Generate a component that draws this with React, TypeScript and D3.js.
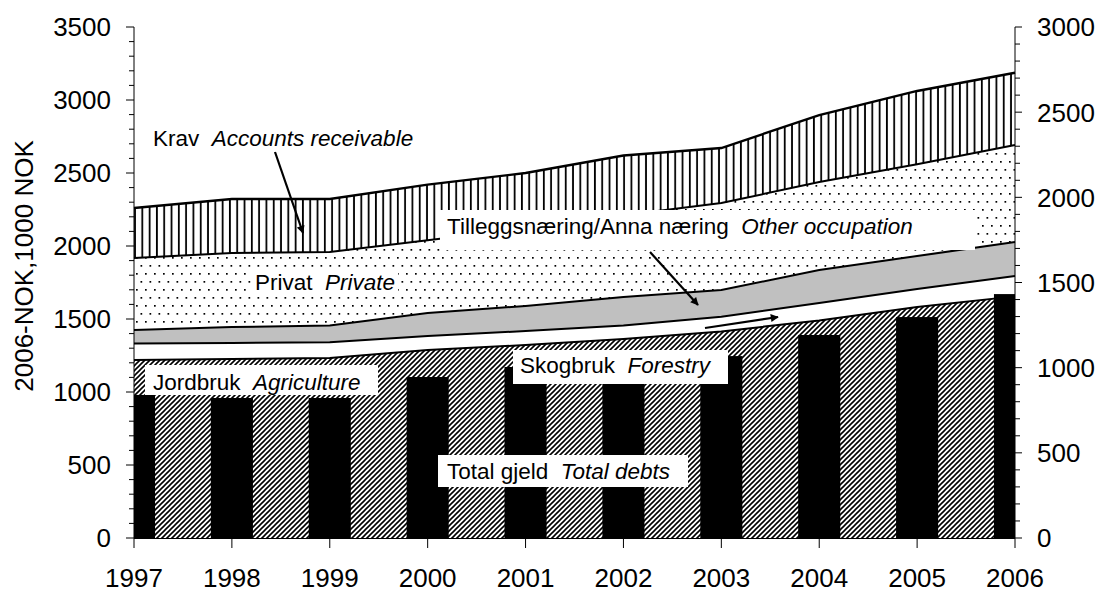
import React from "react";
import * as d3 from "d3";

const years = [1997, 1998, 1999, 2000, 2001, 2002, 2003, 2004, 2005, 2006];
// Stacked layers (left axis, 1000 NOK)
const jordbruk = [1219, 1226, 1233, 1288, 1322, 1363, 1415, 1490, 1582, 1655];
const skogbruk = [114, 110, 107, 95, 96, 92, 100, 120, 123, 139];
const tillegg = [92, 109, 115, 158, 171, 196, 184, 225, 226, 233];
const privat = [493, 507, 504, 499, 531, 559, 595, 603, 629, 665];
const krav = [342, 370, 363, 380, 380, 410, 377, 459, 502, 495];
// Bars (right axis)
const totalDebts = [840, 822, 822, 945, 1004, 1000, 1068, 1192, 1297, 1432];

const leftTicks = [0, 500, 1000, 1500, 2000, 2500, 3000, 3500];
const rightTicks = [0, 500, 1000, 1500, 2000, 2500, 3000];

const FONT = "'Liberation Sans', Arial, sans-serif";

export default function App() {
  const x = d3.scaleLinear().domain([1997, 2006]).range([134, 1015]);
  const yL = d3.scaleLinear().domain([0, 3500]).range([538, 27]);
  const yR = d3.scaleLinear().domain([0, 3000]).range([538, 27]);

  const keys = ["jordbruk", "skogbruk", "tillegg", "privat", "krav"];
  const table = years.map((year, i) => ({
    year,
    jordbruk: jordbruk[i],
    skogbruk: skogbruk[i],
    tillegg: tillegg[i],
    privat: privat[i],
    krav: krav[i],
  }));
  const series = d3.stack<any>().keys(keys)(table);
  const fills: Record<string, string> = {
    jordbruk: "url(#hatch)",
    skogbruk: "#ffffff",
    tillegg: "#c0c0c0",
    privat: "url(#dots)",
    krav: "url(#vlines)",
  };
  const area = d3
    .area<any>()
    .x((d) => x(d.data.year))
    .y0((d) => yL(d[0]))
    .y1((d) => yL(d[1]));
  const topLine = d3
    .line<any>()
    .x((d) => x(d.data.year))
    .y((d) => yL(d[1]));

  const step = x(1998) - x(1997);
  const barW = step * 0.43;

  const leftMinor = d3.range(0, 3501, 100);
  const rightMinor = d3.range(0, 3001, 100);

  return (
    <svg
      width={1099}
      height={593}
      style={{ position: "absolute", left: 0, top: 0, background: "#fff" }}
      fontFamily={FONT}
    >
      <defs>
        <pattern id="hatch" patternUnits="userSpaceOnUse" width={5} height={5}>
          <rect width={5} height={5} fill="#fff" />
          <path d="M-1,1 L1,-1 M0,5 L5,0 M4,6 L6,4" stroke="#000" strokeWidth={1.6} />
        </pattern>
        <pattern id="dots" patternUnits="userSpaceOnUse" width={9} height={16}>
          <rect width={9} height={16} fill="#fff" />
          <rect x={1} y={1} width={1.7} height={1.7} fill="#000" />
          <rect x={5.5} y={9} width={1.7} height={1.7} fill="#000" />
        </pattern>
        <pattern id="vlines" patternUnits="userSpaceOnUse" width={7.3} height={10}>
          <rect width={7.3} height={10} fill="#fff" />
          <line x1={3.6} y1={0} x2={3.6} y2={10} stroke="#000" strokeWidth={1.8} />
        </pattern>
        <clipPath id="plot">
          <rect x={134} y={20} width={1015 - 134} height={538 - 20} />
        </clipPath>
        <marker
          id="arrow"
          viewBox="0 0 10 10"
          refX={9}
          refY={5}
          markerWidth={12}
          markerHeight={8}
          markerUnits="userSpaceOnUse"
          orient="auto"
        >
          <path d="M0,0 L10,5 L0,10 Z" fill="#000" />
        </marker>
      </defs>

      {/* stacked areas */}
      {series.map((s) => (
        <path key={s.key} d={area(s as any) || ""} fill={fills[s.key]} stroke="none" />
      ))}
      {/* boundary lines */}
      {series.map((s) => (
        <path
          key={"l" + s.key}
          d={topLine(s as any) || ""}
          fill="none"
          stroke="#000"
          strokeWidth={s.key === "krav" ? 2.4 : 2}
        />
      ))}

      {/* bars */}
      <g clipPath="url(#plot)">
        {years.map((yr, i) => (
          <rect
            key={yr}
            x={x(yr) - barW / 2}
            y={yR(totalDebts[i])}
            width={barW}
            height={yR(0) - yR(totalDebts[i])}
            fill="#000"
          />
        ))}
      </g>

      {/* axes */}
      <g stroke="#000" strokeWidth={1}>
        <line x1={134} y1={yL(3500)} x2={134} y2={538} />
        <line x1={1015} y1={yR(3000)} x2={1015} y2={538} />
        <line x1={134} y1={538.5} x2={1015} y2={538.5} />
        {leftMinor.map((v) => (
          <line key={"lm" + v} x1={v % 500 === 0 ? 126 : 129} x2={134} y1={yL(v)} y2={yL(v)} />
        ))}
        {rightMinor.map((v) => (
          <line key={"rm" + v} x1={1015} x2={v % 500 === 0 ? 1022 : 1020} y1={yR(v)} y2={yR(v)} />
        ))}
        {years.map((yr) => (
          <line key={"xt" + yr} x1={x(yr)} x2={x(yr)} y1={538} y2={548} />
        ))}
      </g>
      <g fontSize={26} fill="#000">
        {leftTicks.map((v) => (
          <text key={"lt" + v} x={111} y={yL(v)} dy="0.36em" textAnchor="end">
            {v}
          </text>
        ))}
        {rightTicks.map((v) => (
          <text key={"rt" + v} x={1037} y={yR(v)} dy="0.36em" textAnchor="start">
            {v}
          </text>
        ))}
        {years.map((yr) => (
          <text key={"xl" + yr} x={x(yr)} y={587} textAnchor="middle">
            {yr}
          </text>
        ))}
        <text transform="translate(33,266) rotate(-90)" textAnchor="middle">
          2006-NOK,1000 NOK
        </text>
      </g>

      {/* annotation boxes */}
      <g fill="#fff">
        <rect x={251} y={268} width={147} height={27} />
        <rect x={440} y={210} width={535} height={40} />
        <rect x={513} y={350} width={215} height={34} />
        <rect x={145} y={365} width={233} height={30} />
        <rect x={438} y={455} width={250} height={32} />
      </g>
      <g fontSize={22.5} fill="#000">
        <text x={153} y={146} xmlSpace="preserve">
          {"Krav  "}
          <tspan fontStyle="italic">Accounts receivable</tspan>
        </text>
        <text x={255} y={290} xmlSpace="preserve">
          {"Privat  "}
          <tspan fontStyle="italic">Private</tspan>
        </text>
        <text x={447} y={234} xmlSpace="preserve">
          {"Tilleggsnæring/Anna næring  "}
          <tspan fontStyle="italic">Other occupation</tspan>
        </text>
        <text x={520} y={373} xmlSpace="preserve">
          {"Skogbruk  "}
          <tspan fontStyle="italic">Forestry</tspan>
        </text>
        <text x={153} y={390} xmlSpace="preserve">
          {"Jordbruk  "}
          <tspan fontStyle="italic">Agriculture</tspan>
        </text>
        <text x={447} y={479} xmlSpace="preserve">
          {"Total gjeld  "}
          <tspan fontStyle="italic">Total debts</tspan>
        </text>
      </g>

      {/* arrows */}
      <g stroke="#000" strokeWidth={2.2}>
        <line x1={275} y1={152} x2={303} y2={233} markerEnd="url(#arrow)" />
        <line x1={650} y1={252} x2={698} y2={305} markerEnd="url(#arrow)" />
        <line x1={705} y1={328} x2={778} y2={317} markerEnd="url(#arrow)" />
      </g>
    </svg>
  );
}
